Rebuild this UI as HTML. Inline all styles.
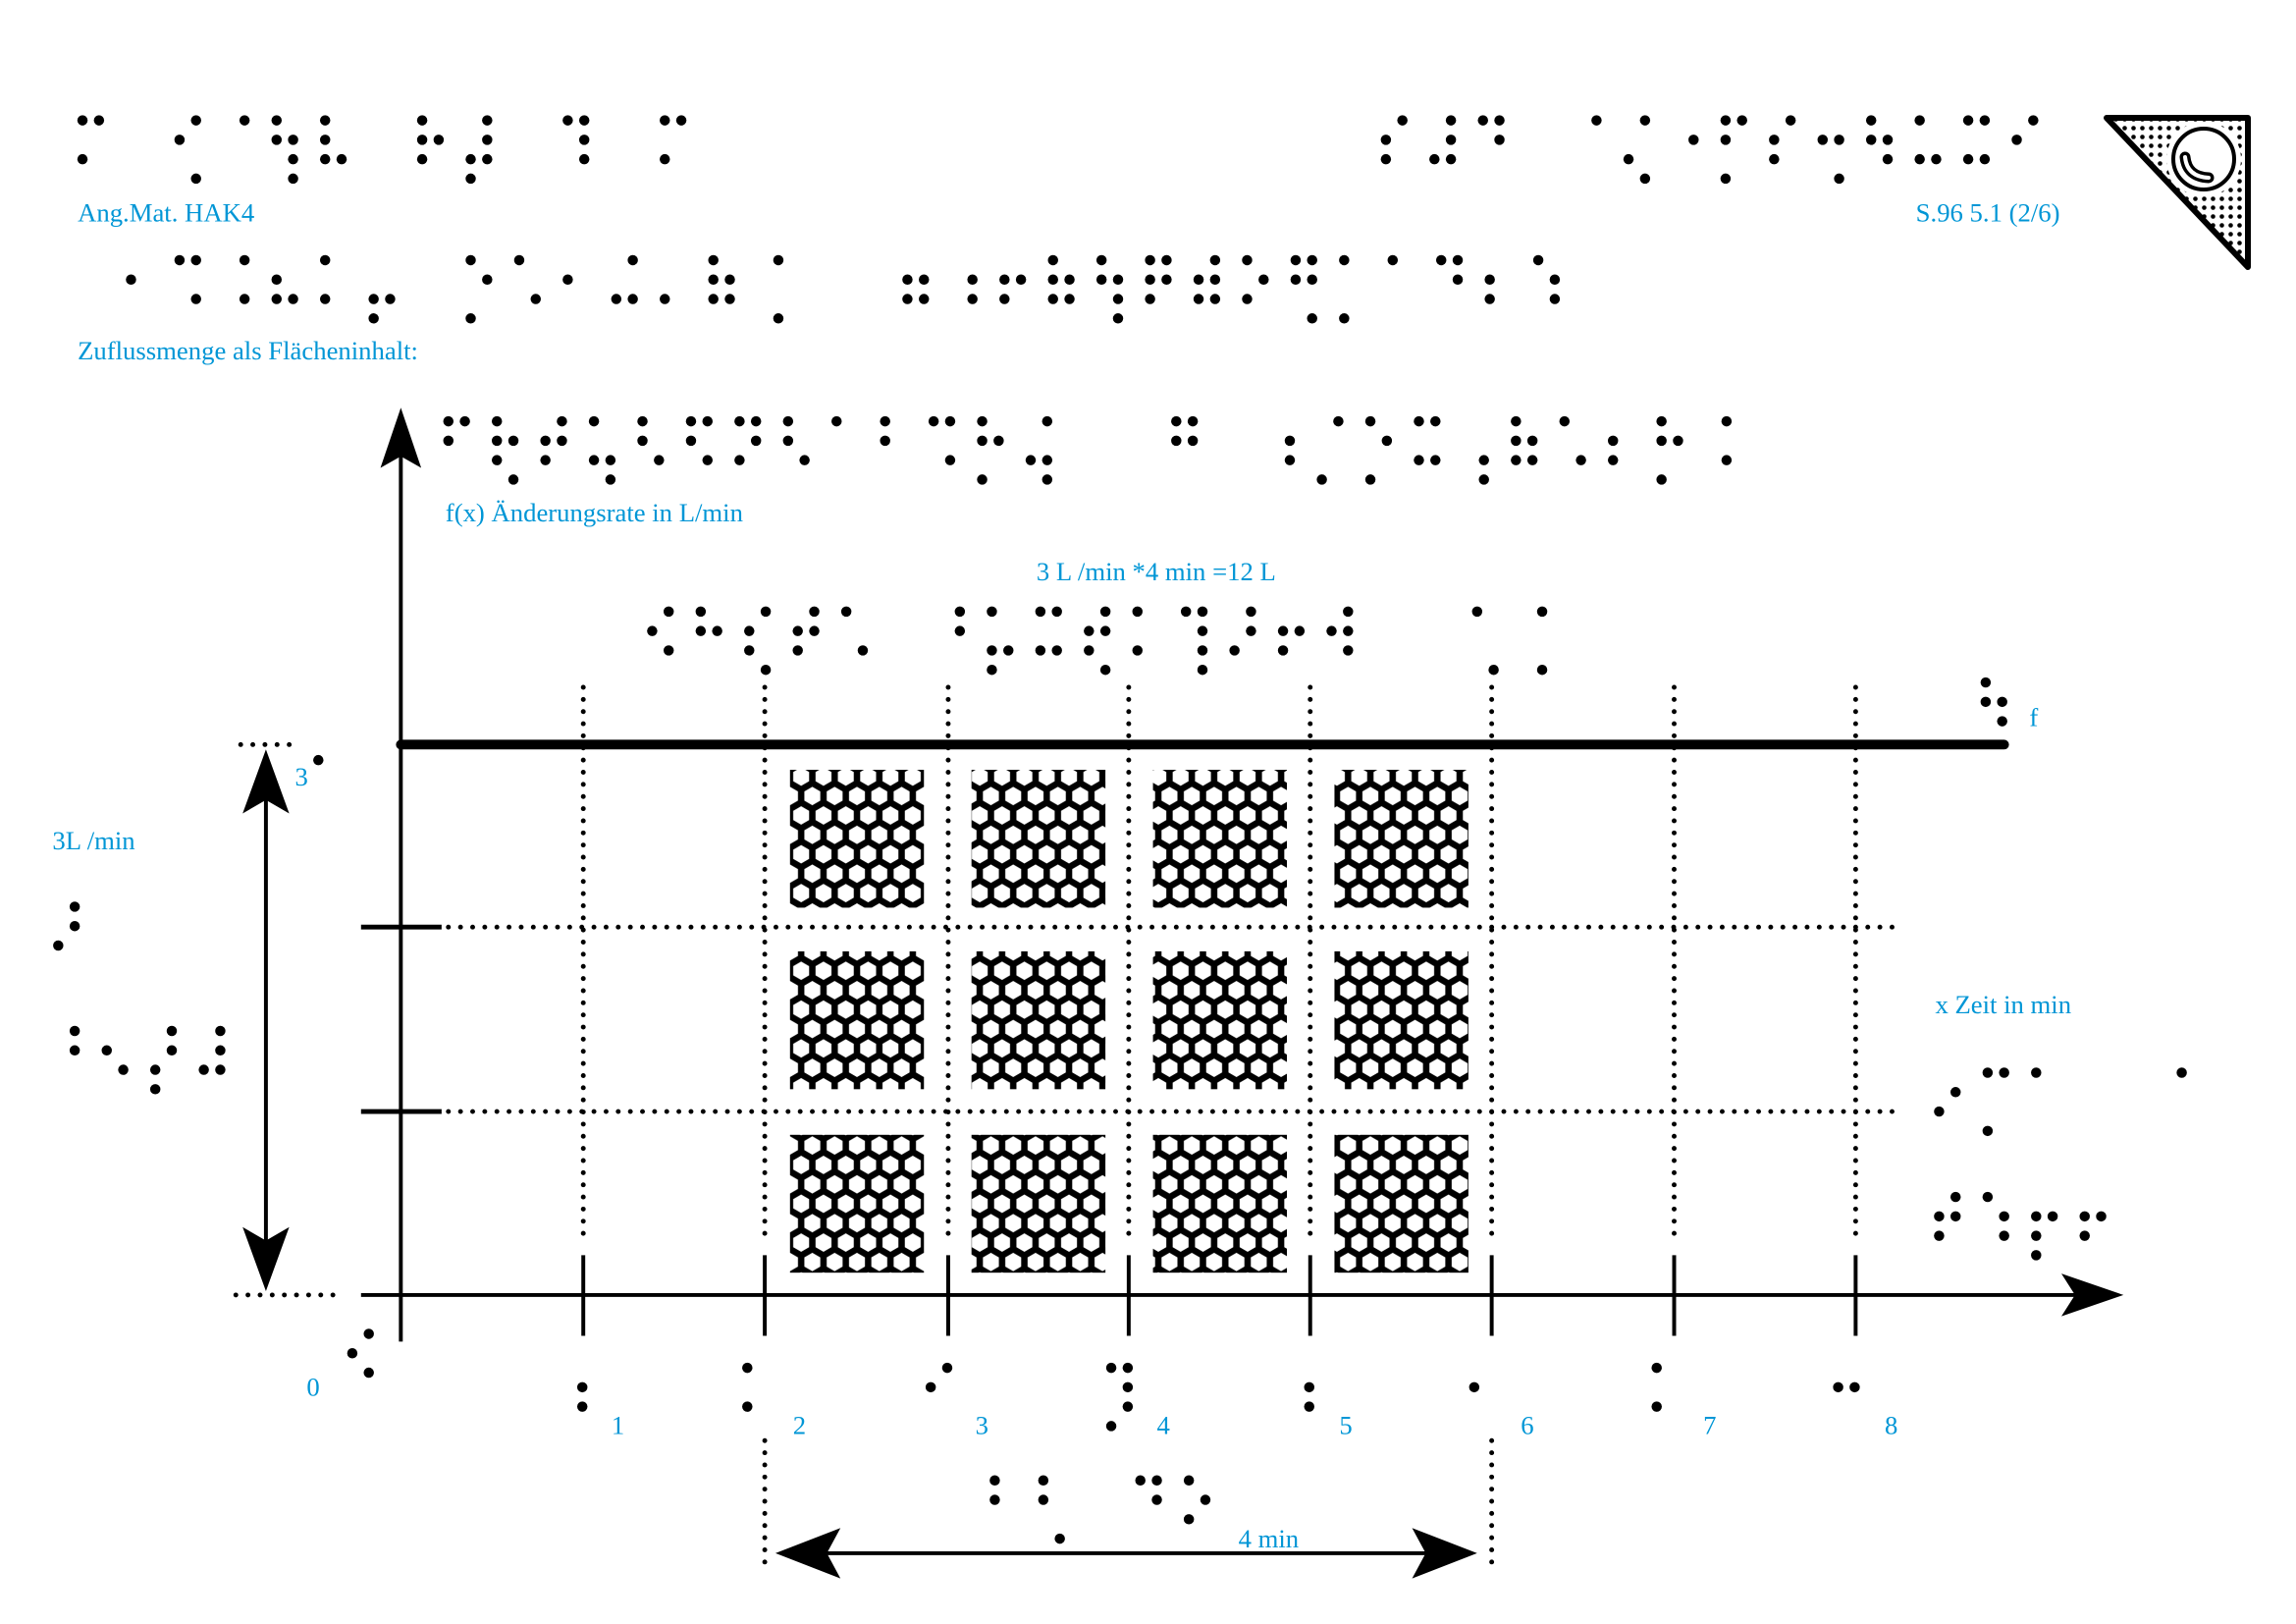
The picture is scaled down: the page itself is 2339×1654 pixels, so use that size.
<!DOCTYPE html>
<html><head><meta charset="utf-8"><style>
html,body{margin:0;padding:0;background:#fff}
svg{display:block}
.t{font-family:"Liberation Serif",serif;font-size:27px;fill:#0096d6}
</style></head><body>
<svg id="s" width="2339" height="1654" viewBox="0 0 2339 1654" xmlns="http://www.w3.org/2000/svg">
<defs>
<pattern id="hex" width="23" height="40" patternUnits="userSpaceOnUse" x="814" y="790">
<rect width="23" height="40" fill="#000"/>
<polygon fill="#fff" points="11.5,0.5 19.7,5.2 19.7,14.8 11.5,19.5 3.3,14.8 3.3,5.2"/>
<polygon fill="#fff" points="0,20.5 8.2,25.2 8.2,34.8 0,39.5 -8.2,34.8 -8.2,25.2"/>
<polygon fill="#fff" points="23,20.5 31.2,25.2 31.2,34.8 23,39.5 14.8,34.8 14.8,25.2"/>
</pattern>
<pattern id="dots" width="9" height="9" patternUnits="userSpaceOnUse">
<circle cx="4.5" cy="4.5" r="2.3" fill="#000"/>
</pattern>
</defs>
<g transform="scale(0.9887)">
<g id="br"></g>
<text class="t" x="80" y="228">Ang.Mat. HAK4</text>
<text class="t" x="1974" y="228">S.96 5.1 (2/6)</text>
<text class="t" x="80" y="370">Zuflussmenge als Flächeninhalt:</text>
<text class="t" x="459" y="537">f(x) Änderungsrate in L/min</text>
<text class="t" x="1068" y="598">3 L /min *4 min =12 L</text>
<text class="t" x="2091" y="748">f</text>
<text class="t" x="304" y="809" font-size="22">3</text>
<text class="t" x="54" y="875">3L /min</text>
<text class="t" x="1994" y="1044">x Zeit in min</text>
<text class="t" x="316" y="1438">0</text>
<text class="t" x="1276" y="1594">4 min</text>
<text class="t" x="630" y="1477">1</text><text class="t" x="817" y="1477">2</text>
<text class="t" x="1005" y="1477">3</text><text class="t" x="1192" y="1477">4</text>
<text class="t" x="1380" y="1477">5</text><text class="t" x="1567" y="1477">6</text>
<text class="t" x="1755" y="1477">7</text><text class="t" x="1942" y="1477">8</text>
<g id="hx"></g>
<g id="grid" stroke="#000" stroke-width="5" stroke-linecap="round" stroke-dasharray="0 12.5" fill="none"></g>
<line x1="413" y1="460" x2="413" y2="1382" stroke="#000" stroke-width="4"/>
<polygon points="413,420 392,482 413,470 434,482" fill="#000"/>
<line x1="372" y1="1334" x2="2150" y2="1334" stroke="#000" stroke-width="4"/>
<polygon points="2188,1334 2124,1312 2138,1334 2124,1356" fill="#000"/>
<line x1="413" y1="767" x2="2065" y2="767" stroke="#000" stroke-width="10" stroke-linecap="round"/>
<line x1="372" y1="955" x2="455" y2="955" stroke="#000" stroke-width="5"/>
<line x1="372" y1="1145" x2="455" y2="1145" stroke="#000" stroke-width="5"/>
<g id="ticks" stroke="#000" stroke-width="4"></g>
<line x1="274" y1="800" x2="274" y2="1300" stroke="#000" stroke-width="4"/>
<polygon points="274,772 250,838 274,824 298,838" fill="#000"/>
<polygon points="274,1330 250,1264 274,1278 298,1264" fill="#000"/>
<line x1="830" y1="1600" x2="1490" y2="1600" stroke="#000" stroke-width="4"/>
<polygon points="799,1600 866,1574 852,1600 866,1626" fill="#000"/>
<polygon points="1522,1600 1455,1574 1469,1600 1455,1626" fill="#000"/>
</g>
<polygon points="2146,120 2290,120 2290,272" fill="url(#dots)" stroke="#000" stroke-width="6" stroke-linejoin="round"/>
<circle cx="2245" cy="162" r="38" fill="#fff"/>
<circle cx="2245" cy="162" r="31" fill="#fff" stroke="#000" stroke-width="4"/>
<path d="M2226,160 Q2228,180 2250,181" fill="none" stroke="#000" stroke-width="11" stroke-linecap="round"/>
<path d="M2226,160 Q2228,180 2250,181" fill="none" stroke="#fff" stroke-width="4" stroke-linecap="round"/>
</svg>
<script>
var NS="http://www.w3.org/2000/svg";
var br=document.getElementById('br');
var seed=7;function rnd(){seed=(seed*1103515245+12345)%2147483648;return seed/2147483648;}
var DX=17,DY=20,P=50;
function cell(x,y,four){var pos=[[0,0],[0,1],[0,2],[1,0],[1,1],[1,2]];var any=0;
for(var i=0;i<6;i++){if(rnd()<0.45){dot(x+pos[i][0]*DX,y+pos[i][1]*DY);any=1;}}
if(!any)dot(x,y);if(four&&rnd()<0.2)dot(x+(rnd()<0.5?0:DX),y+3*DY);}
function dot(x,y){var c=document.createElementNS(NS,'circle');c.setAttribute('cx',x);c.setAttribute('cy',y);c.setAttribute('r',5.3);br.appendChild(c);}
function row(x,y,n,s,gap){seed=s;for(var i=0;i<n;i++){if(gap&&rnd()<gap)continue;cell(x+i*P,y,true);}}
row(85,124,13,11,0.2);row(1428,124,14,23,0.2);
row(85,268,31,37,0.1);
row(462,434,27,53,0.1);
row(672,630,20,67,0.15);
row(60,934,3,71,0.3);row(60,1062,4,73,0);
row(1998,1105,6,79,0.15);row(1998,1233,6,83,0.1);
row(328,743,1,89,0);row(2046,683,1,97,0);row(363,1374,1,101,0);
row(1025,1525,5,103,0.1);
var gx=[601,788,977,1163,1350,1537,1725,1912];
for(var i=0;i<8;i++){row(gx[i]-18,1409,1,110+i*7,0);}
var g=document.getElementById('grid');
function ln(x1,y1,x2,y2){var l=document.createElementNS(NS,'line');l.setAttribute('x1',x1);l.setAttribute('y1',y1);l.setAttribute('x2',x2);l.setAttribute('y2',y2);return l;}
g.appendChild(ln(462,955,1960,955));g.appendChild(ln(462,1145,1960,1145));
g.appendChild(ln(248,767,310,767));g.appendChild(ln(243,1334,352,1334));
for(var i=0;i<8;i++){g.appendChild(ln(gx[i],708,gx[i],1273));}
g.appendChild(ln(788,1484,788,1620));g.appendChild(ln(1537,1484,1537,1620));
var t=document.getElementById('ticks');
for(var i=0;i<8;i++){t.appendChild(ln(gx[i],1293,gx[i],1376));}
var hx=document.getElementById('hx');var ys=[793,980,1169];
for(var c=0;c<4;c++)for(var r=0;r<3;r++){var re=document.createElementNS(NS,'rect');re.setAttribute('x',814+c*187);re.setAttribute('y',ys[r]);re.setAttribute('width',138);re.setAttribute('height',142);re.setAttribute('fill','url(#hex)');hx.appendChild(re);}
</script>
</body></html>
